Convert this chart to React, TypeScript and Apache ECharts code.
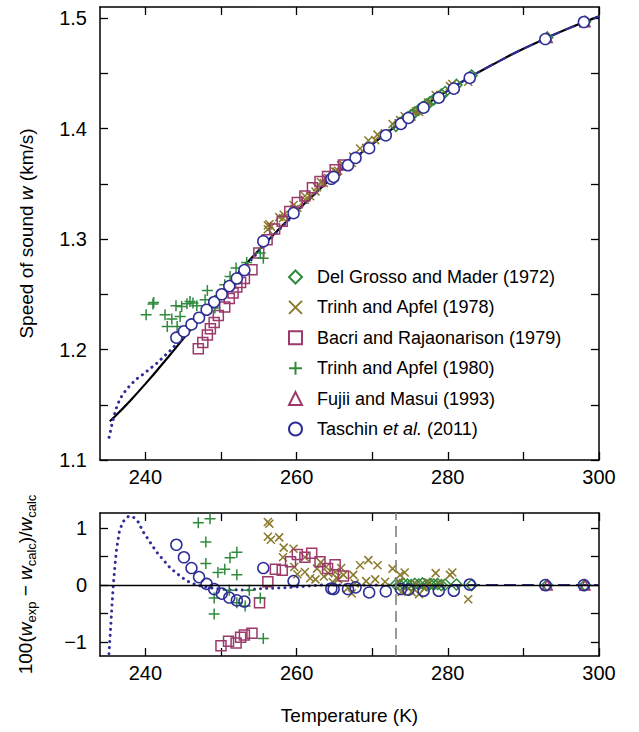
import React, { useEffect, useRef } from "react";
import * as echarts from "echarts";

// ---------- data ----------
const X_TICKS = [240, 250, 260, 270, 280, 290, 300];
const X_LABELS = [240, 260, 280, 300];
const Y_TOP_TICKS = [1.1, 1.15, 1.2, 1.25, 1.3, 1.35, 1.4, 1.45, 1.5];
const Y_TOP_LABELS = [1.1, 1.2, 1.3, 1.4, 1.5];
const Y_BOT_TICKS = [-1, -0.5, 0, 0.5, 1];
const Y_BOT_LABELS = [-1, 0, 1];

const NAMES = [
  "Del Grosso and Mader (1972)",
  "Trinh and Apfel (1978)",
  "Bacri and Rajaonarison (1979)",
  "Trinh and Apfel (1980)",
  "Fujii and Masui (1993)",
  "Taschin et al. (2011)",
];

// model (black solid)
const MODEL_T = [235.3, 236, 237, 238, 239, 240, 241, 242, 243, 244, 245, 246, 247, 248, 249, 250, 251, 252, 253, 254, 255, 256, 258, 260, 262, 264, 266, 268, 270, 272, 273.15, 274, 276, 278, 280, 282, 284, 286, 288, 290, 292, 294, 296, 298, 300];
const MODEL_W = [1.135, 1.1396, 1.1465, 1.1537, 1.1612, 1.1689, 1.1767, 1.1848, 1.193, 1.2013, 1.2097, 1.2181, 1.2264, 1.2347, 1.2429, 1.2511, 1.2592, 1.2671, 1.2749, 1.2825, 1.2899, 1.2971, 1.3113, 1.3251, 1.3384, 1.3512, 1.3634, 1.3749, 1.386, 1.3964, 1.4024, 1.4066, 1.4164, 1.4257, 1.4343, 1.4428, 1.4508, 1.4581, 1.4655, 1.4723, 1.4786, 1.4849, 1.4907, 1.4963, 1.5015];

// second model (blue dotted, low T)
const DOT_T = [235.2, 235.4, 235.6, 235.8, 236.0, 236.3, 236.6, 237.0, 237.5, 238.0, 238.5, 239.0, 239.7, 240.6, 241.5, 242.4, 243.3, 244.4, 245.5, 246.8, 248.5, 250.8, 253.4, 255.5, 258.1, 261.2, 263.3, 266, 270, 273.15];
const DOT_W = [1.1205, 1.1266, 1.133, 1.1383, 1.1436, 1.1497, 1.1546, 1.1592, 1.1638, 1.1677, 1.1711, 1.1742, 1.1776, 1.1825, 1.1875, 1.1933, 1.1991, 1.2069, 1.2147, 1.2247, 1.2382, 1.2566, 1.2768, 1.2927, 1.3113, 1.3328, 1.3468, 1.3634, 1.386, 1.4024];
const DEV_T = [235.19, 235.32, 235.46, 235.59, 235.76, 235.98, 236.2, 236.56, 237.0, 237.75, 238.4, 239.07, 239.7, 240.6, 241.5, 242.4, 243.3, 244.4, 245.5, 246.8, 248.55, 250.8, 253.4, 255.5, 258.1, 261.2, 263.3, 266, 270, 273.15];
const DEV_D = [-1.21, -0.94, -0.64, -0.35, 0, 0.35, 0.64, 0.94, 1.11, 1.21, 1.2, 1.11, 0.94, 0.76, 0.58, 0.44, 0.3, 0.18, 0.07, 0.0, -0.05, -0.08, -0.09, -0.06, -0.05, -0.02, 0, 0, 0, 0];
// second model (blue dashed, T >= 273.15)
const DASH_T = [273.15, 300];
const DASH_D = [0, 0];
const MELT_T = 273.15;

// Del Grosso and Mader (1972)
const DG_T = [273.15, 273.65, 274.15, 274.65, 275.15, 275.65, 276.15, 276.65, 277.15, 277.65, 278.15, 278.65, 279.15, 279.65, 281.15, 283.15, 293.15, 298.15];
const DG_W = [1.4024, 1.4049, 1.4074, 1.4098, 1.4122, 1.4146, 1.417, 1.4193, 1.4217, 1.424, 1.4263, 1.4285, 1.4308, 1.433, 1.4395, 1.4479, 1.4823, 1.4967];
const DG_D = [0.01, 0.0, 0.02, 0.01, 0.0, 0.02, 0.01, 0.03, 0.0, 0.02, 0.01, 0.02, 0.0, 0.01, 0.01, 0.0, 0.0, 0.0];

// Trinh and Apfel (1978)
const TA78_T = [256.2, 256.4, 256.2, 256.6, 257.7, 258.3, 259.6, 258.2, 259.7, 260.1, 261.1, 261.1, 261.8, 262.7, 263.2, 263.6, 264.2, 265.1, 265.9, 266.2, 267.3, 267.5, 268.4, 269.5, 270.7, 269.2, 270.4, 271.7, 272.7, 273.7, 274.3, 273.5, 273.9, 275.2, 276.2, 277.4, 278.4, 280.3, 280.6, 282.7, 264.8, 266.8, 262.5, 275.8, 277.0, 279.0, 265.5, 263.9, 265.3, 267.7];
const TA78_W = [1.3123, 1.3134, 1.3089, 1.3112, 1.3199, 1.3219, 1.3308, 1.3189, 1.3272, 1.3283, 1.3356, 1.339, 1.3387, 1.3469, 1.3516, 1.3507, 1.3552, 1.361, 1.3669, 1.3671, 1.3688, 1.3746, 1.3819, 1.3892, 1.3945, 1.3825, 1.3895, 1.3956, 1.4041, 1.4076, 1.4112, 1.4049, 1.4044, 1.4108, 1.4149, 1.4235, 1.4304, 1.4384, 1.4403, 1.4424, 1.3568, 1.3673, 1.343, 1.4156, 1.4203, 1.4304, 1.3618, 1.3549, 1.3609, 1.3736];
const TA78_D = [1.11, 1.08, 0.85, 0.8, 0.84, 0.66, 0.64, 0.49, 0.32, 0.19, 0.23, 0.49, 0.12, 0.29, 0.4, 0.15, 0.21, 0.23, 0.3, 0.18, -0.15, 0.18, 0.35, 0.44, 0.35, 0.07, 0.1, 0.06, 0.29, 0.18, 0.22, 0.06, -0.12, -0.12, -0.16, 0.05, 0.21, 0.18, 0.22, -0.25, 0.05, -0.05, 0.1, 0.02, -0.05, 0.02, 0.1, 0.32, 0.13, 0.03];

// Bacri and Rajaonarison (1979)
const BAC_T = [247.0, 247.6, 248.2, 248.6, 249.1, 249.65, 250.5, 251.1, 251.6, 252.1, 252.6, 253.1, 254.1, 255.0, 256.1, 257.1, 258.1, 259.1, 260.1, 261.1, 262.1, 263.1, 264.1, 265.1, 266.2];
const BAC_W = [1.2007, 1.2064, 1.2131, 1.2188, 1.2245, 1.2308, 1.2384, 1.2462, 1.2511, 1.2565, 1.2607, 1.2643, 1.2723, 1.2873, 1.2993, 1.309, 1.3162, 1.3249, 1.333, 1.339, 1.3463, 1.352, 1.3565, 1.3626, 1.3671];
const BACB_T = [250.0, 251.0, 252.0, 252.6, 253.1, 254.1, 255.1, 256.2, 257.2, 258.1, 259.2, 260.1, 261.1, 262.0, 263.1, 264.1, 265.1, 266.2];
const BACB_D = [-1.07, -0.99, -1.02, -0.92, -0.88, -0.85, -0.31, 0.06, 0.28, 0.26, 0.41, 0.54, 0.49, 0.56, 0.41, 0.29, 0.36, 0.16];

// Trinh and Apfel (1980)
const TA80_T = [240.1, 241.0, 241.1, 242.6, 242.9, 243.5, 244.05, 244.2, 244.6, 244.8, 245.5, 245.9, 246.3, 246.8, 247.9, 248.2, 249.2, 249.8, 250.5, 251.2, 252.0, 253.4, 255.2, 255.6];
const TA80_W = [1.2315, 1.2411, 1.2425, 1.2315, 1.2209, 1.2276, 1.2396, 1.2209, 1.2299, 1.239, 1.2414, 1.2435, 1.242, 1.2396, 1.245, 1.2534, 1.2375, 1.2486, 1.2586, 1.2661, 1.2737, 1.2788, 1.2873, 1.2827];
const TA80B_T = [247.0, 248.55, 248.0, 248.0, 249.6, 250.5, 251.2, 252.1, 252.1, 249.1, 249.1, 251.1, 252.1, 253.2, 253.75, 255.2, 255.6];
const TA80B_D = [1.1, 1.17, 0.76, 0.38, 0.22, 0.28, 0.48, 0.58, 0.18, -0.23, -0.51, -0.09, -0.31, -0.37, -0.09, -0.23, -0.94];

// Fujii and Masui (1993)
const FM_T = [293.15, 298.15];
const FM_W = [1.4823, 1.4967];
const FM_D = [0.0, 0.0];

// Taschin et al. (2011)
const TAS_T = [244.1, 245.1, 246.1, 247.1, 248.1, 249.1, 250.1, 251.1, 252.1, 253.1, 255.6, 259.6, 264.6, 264.9, 266.8, 267.8, 269.6, 271.8, 273.8, 274.8, 276.8, 278.8, 280.8, 282.9, 292.9, 298.0];
const TAS_W = [1.2107, 1.2164, 1.2227, 1.2288, 1.236, 1.243, 1.25, 1.2574, 1.2643, 1.2719, 1.298, 1.3234, 1.3545, 1.3562, 1.3668, 1.3734, 1.3822, 1.3939, 1.4042, 1.4096, 1.4189, 1.4279, 1.4361, 1.4458, 1.481, 1.4964];
const TAS_D = [0.71, 0.49, 0.3, 0.14, 0.02, -0.07, -0.15, -0.22, -0.27, -0.29, 0.3, 0.07, -0.06, -0.07, -0.07, -0.04, -0.13, -0.11, -0.07, -0.08, -0.1, -0.1, -0.1, 0.01, 0.0, 0.0];

// ---------- styling ----------
const FONT = '"Liberation Sans", Arial, Helvetica, sans-serif';
const GREEN = "#2f8a3c";
const OLIVE = "#8a7a2c";
const MAGENTA = "#9b3a6b";
const BLUE = "#2e2e96";
const PLUS = "path://M5,0 L5,10 M0,5 L10,5";
const CROSS = "path://M0,0 L10,10 M10,0 L0,10";

const zip = (a: number[], b: number[]) => a.map((v, i) => [v, b[i]]);

function makeOption() {
  const GL = 100, GW = 499;
  const axisLine = { show: true, onZero: false, lineStyle: { color: "#000", width: 1.5 } };
  const tick = (vals: number[]) => ({ show: true, inside: true, length: 8, customValues: vals, lineStyle: { color: "#000", width: 1.3 } });
  const lbl = { color: "#000", fontSize: 20, fontFamily: FONT };

  const xAxis: any[] = [];
  const yAxis: any[] = [];
  [0, 1].forEach((g) => {
    xAxis.push({
      type: "value", gridIndex: g, min: 234, max: 300, position: "bottom",
      axisLine, axisTick: tick(X_TICKS), splitLine: { show: false },
      axisLabel: { ...lbl, margin: 7, customValues: X_LABELS },
      ...(g === 1
        ? { name: "Temperature (K)", nameLocation: "middle", nameGap: 50, nameTextStyle: { ...lbl, fontSize: 19 } }
        : {}),
    });
    xAxis.push({
      type: "value", gridIndex: g, min: 234, max: 300, position: "top",
      axisLine, axisTick: tick(X_TICKS), splitLine: { show: false }, axisLabel: { show: false },
    });
  });
  yAxis.push({
    type: "value", gridIndex: 0, min: 1.1, max: 1.51, position: "left",
    axisLine, axisTick: tick(Y_TOP_TICKS), splitLine: { show: false },
    axisLabel: { ...lbl, margin: 13, customValues: Y_TOP_LABELS, formatter: (v: number) => v.toFixed(1) },
    name: "Speed of sound {i|w} (km/s)", nameLocation: "middle", nameGap: 64,
    nameTextStyle: { ...lbl, fontSize: 19, rich: { i: { ...lbl, fontSize: 19, fontStyle: "italic" } } },
  });
  yAxis.push({
    type: "value", gridIndex: 0, min: 1.1, max: 1.51, position: "right",
    axisLine, axisTick: tick(Y_TOP_TICKS), splitLine: { show: false }, axisLabel: { show: false },
  });
  yAxis.push({
    type: "value", gridIndex: 1, min: -1.25, max: 1.27, position: "left",
    axisLine, axisTick: tick(Y_BOT_TICKS), splitLine: { show: false },
    axisLabel: { ...lbl, margin: 13, customValues: Y_BOT_LABELS, formatter: (v: number) => (v < 0 ? "\u2212" + Math.abs(v) : String(v)) },
    name: "100({i|w}{sub|exp} \u2212 {i|w}{sub|calc})/{i|w}{sub|calc}", nameLocation: "middle", nameGap: 62,
    nameTextStyle: {
      ...lbl, fontSize: 19, lineHeight: 26,
      rich: {
        i: { ...lbl, fontSize: 19, fontStyle: "italic", lineHeight: 26 },
        sub: { ...lbl, fontSize: 13, lineHeight: 13, verticalAlign: "bottom" },
      },
    },
  });
  yAxis.push({
    type: "value", gridIndex: 1, min: -1.25, max: 1.27, position: "right",
    axisLine, axisTick: tick(Y_BOT_TICKS), splitLine: { show: false }, axisLabel: { show: false },
  });

  const scat = (name: string, g: number, data: number[][], symbol: string, size: number, color: string, fill: string) => ({
    type: "scatter", name, xAxisIndex: g * 2, yAxisIndex: g * 2, data, symbol, symbolSize: size,
    itemStyle: { color: fill, borderColor: color, borderWidth: 1.5, opacity: 1 }, z: 3, clip: true,
  });

  const series: any[] = [
    // bottom panel reference lines
    {
      type: "line", xAxisIndex: 2, yAxisIndex: 2, data: [], silent: true, z: 1,
      markLine: {
        silent: true, symbol: "none", label: { show: false },
        data: [
          { yAxis: 0, lineStyle: { color: "#000", width: 1.4, type: "solid" } },
          { xAxis: MELT_T, lineStyle: { color: "#808080", width: 1.6, type: [11, 6] } },
        ],
      },
    },
    // top models
    { type: "line", xAxisIndex: 0, yAxisIndex: 0, data: zip(MODEL_T, MODEL_W), showSymbol: false, symbol: "none", lineStyle: { color: "#000", width: 2.2 }, z: 2, silent: true },
    { type: "line", xAxisIndex: 0, yAxisIndex: 0, data: zip(DOT_T, DOT_W), symbol: "none", lineStyle: { color: BLUE, width: 3, type: [0.1, 6], cap: "round" }, z: 2, silent: true },
    { type: "line", xAxisIndex: 0, yAxisIndex: 0, data: zip(MODEL_T.slice(30), MODEL_W.slice(30)), symbol: "none", lineStyle: { color: BLUE, width: 2, type: [10, 5] }, z: 2, silent: true },
    // bottom models
    { type: "line", xAxisIndex: 2, yAxisIndex: 2, data: zip(DEV_T, DEV_D), symbol: "none", lineStyle: { color: BLUE, width: 3, type: [0.1, 6], cap: "round" }, z: 2, silent: true, clip: true },
    { type: "line", xAxisIndex: 2, yAxisIndex: 2, data: zip(DASH_T, DASH_D), symbol: "none", lineStyle: { color: BLUE, width: 2, type: [12, 6] }, z: 2, silent: true },
    // data top
    scat(NAMES[0], 0, zip(DG_T, DG_W), "diamond", 11, GREEN, "transparent"),
    scat(NAMES[1], 0, zip(TA78_T, TA78_W), CROSS, 8, OLIVE, "transparent"),
    scat(NAMES[2], 0, zip(BAC_T, BAC_W), "rect", 10, MAGENTA, "transparent"),
    scat(NAMES[3], 0, zip(TA80_T, TA80_W), PLUS, 11, GREEN, "transparent"),
    scat(NAMES[4], 0, zip(FM_T, FM_W), "triangle", 10, MAGENTA, "transparent"),
    scat(NAMES[5], 0, zip(TAS_T, TAS_W), "circle", 11, BLUE, "#ffffff"),
    // data bottom
    scat(NAMES[0], 1, zip(DG_T, DG_D), "diamond", 11, GREEN, "transparent"),
    scat(NAMES[1], 1, zip(TA78_T, TA78_D), CROSS, 8, OLIVE, "transparent"),
    scat(NAMES[2], 1, zip(BACB_T, BACB_D), "rect", 10, MAGENTA, "transparent"),
    scat(NAMES[3], 1, zip(TA80B_T, TA80B_D), PLUS, 11, GREEN, "transparent"),
    scat(NAMES[4], 1, zip(FM_T, FM_D), "triangle", 10, MAGENTA, "transparent"),
    scat(NAMES[5], 1, zip(TAS_T, TAS_D), "circle", 11, BLUE, "transparent"),
  ];

  return {
    animation: false,
    backgroundColor: "#fff",
    textStyle: { fontFamily: FONT },
    grid: [
      { left: GL, top: 7, width: GW, height: 453, containLabel: false, outerBoundsMode: "none" },
      { left: GL, top: 513, width: GW, height: 143, containLabel: false, outerBoundsMode: "none" },
    ],
    xAxis,
    yAxis,
    legend: {
      data: NAMES, orient: "vertical", left: 283, top: 263,
      itemWidth: 13, itemHeight: 13, itemGap: 12.4, selectedMode: false,
      itemStyle: { opacity: 1 },
      formatter: (n: string) => (n === NAMES[5] ? "Taschin {i|et al.} (2011)" : n),
      textStyle: {
        color: "#000", fontSize: 18, fontFamily: FONT, lineHeight: 18, padding: [0, 0, 0, 10],
        rich: { i: { color: "#000", fontSize: 18, fontFamily: FONT, fontStyle: "italic" } },
      },
    },
    series,
  };
}

export default function App() {
  const ref = useRef<HTMLDivElement>(null);
  useEffect(() => {
    if (!ref.current) return;
    const chart = echarts.init(ref.current, null, { renderer: "svg" });
    chart.setOption(makeOption() as any);
    return () => chart.dispose();
  }, []);
  return (
    <div
      ref={ref}
      style={{ position: "absolute", left: 0, top: 0, width: 639, height: 732, background: "#fff" }}
    />
  );
}
